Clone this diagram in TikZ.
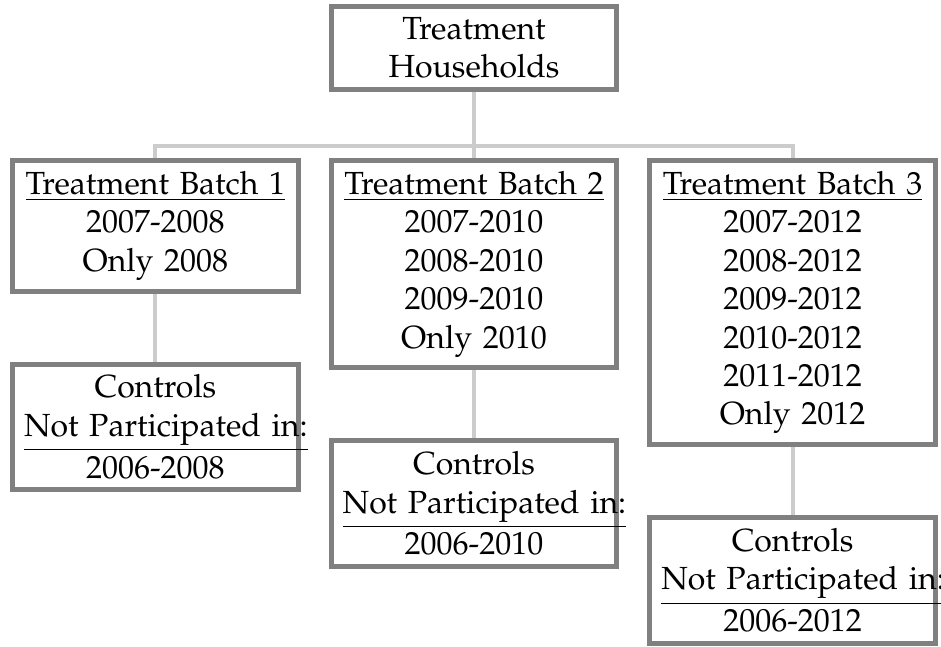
\documentclass[tikz,border=0pt]{standalone}
\usepackage[T1]{fontenc}
\usepackage{mathpazo}
\usetikzlibrary{positioning}

\begin{document}
\begin{tikzpicture}[x=0.75pt,y=-0.75pt,
	box/.style={draw=gray, line width=3.75pt, fill=white, text width=197pt, align=center,
		inner xsep=8.6pt, inner ysep=8pt, font=\fontsize{24}{28.8}\selectfont},
	link/.style={draw=black!20, line width=3pt}]
	\useasboundingbox (0,0) rectangle (941,646);
	
	\node[box, anchor=north] (top) at (474,4) {Treatment\\Households};
	\node[box, below=50pt of top] (b2) {\underline{Treatment Batch 2}\\2007-2010\\2008-2010\\2009-2010\\Only 2010};
	\node[box, left=21pt of b2.north west, anchor=north east] (b1) {\underline{Treatment Batch 1}\\2007-2008\\Only 2008};
	\node[box, right=21pt of b2.north east, anchor=north west] (b3) {\underline{Treatment Batch 3}\\2007-2012\\2008-2012\\2009-2012\\2010-2012\\2011-2012\\Only 2012};
	
	\node[box, below=51pt of b1] (c1) {Controls\\\underline{Not Participated in:}\\[2.6pt]2006-2008};
	\node[box, below=51pt of b2] (c2) {Controls\\\underline{Not Participated in:}\\[2.6pt]2006-2010};
	\node[box, below=51pt of b3] (c3) {Controls\\\underline{Not Participated in:}\\[2.6pt]2006-2012};
	
	\coordinate[below=40.5pt of top] (bus);
	\draw[link] (top) -- (bus);
	\draw[link] (b1.north) |- (bus) -| (b3.north);
	\draw[link] (bus) -- (b2.north);
	\draw[link] (b1) -- (c1);
	\draw[link] (b2) -- (c2);
	\draw[link] (b3) -- (c3);
\end{tikzpicture}
\end{document}
